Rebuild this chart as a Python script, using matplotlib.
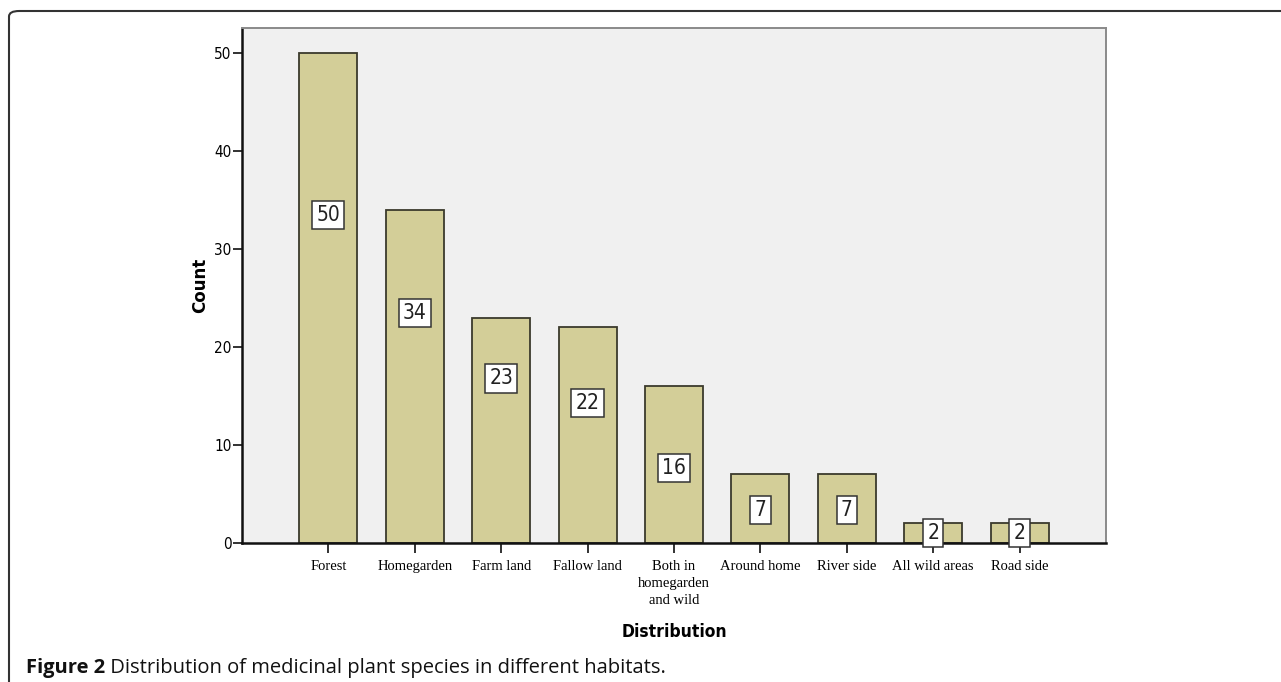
import matplotlib
matplotlib.use("Agg")
import matplotlib.pyplot as plt
from matplotlib.patches import FancyBboxPatch

# data
habitats = ["Forest", "Homegarden", "Farm land", "Fallow land",
            "Both in\nhomegarden\nand wild", "Around home", "River side",
            "All wild areas", "Road side"]
counts = [50, 34, 23, 22, 16, 7, 7, 2, 2]

# where each value box sits, as a share of the bar height (SPSS puts them oddly)
label_frac = [0.67, 0.69, 0.73, 0.65, 0.48, 0.48, 0.48, 0.5, 0.5]

serif = ["Liberation Serif", "DejaVu Serif"]

fig = plt.figure(figsize=(12.81, 6.82), dpi=100)
ax = fig.add_axes([0.1889, 0.2038, 0.6745, 0.7551])
ax.set_facecolor("#f0f0f0")

x = list(range(len(habitats)))
ax.bar(x, counts, width=0.67, color="#d3ce98", edgecolor="#3b3a2c", linewidth=1.3, zorder=2)

for i in range(len(counts)):
    ax.text(i, counts[i] * label_frac[i], str(counts[i]), ha="center", va="center",
            fontsize=15, family="DejaVu Sans", fontstretch="condensed",
            color="#222222", zorder=5, clip_on=False,
            bbox=dict(boxstyle="square,pad=0.2", fc="white", ec="#333333", lw=1.1))

ax.set_xlim(-1, len(habitats))
ax.set_ylim(0, 52.55)
ax.set_yticks([0, 10, 20, 30, 40, 50])
ax.set_xticks(x)
ax.set_xticklabels(habitats, fontsize=10.5, family=serif, linespacing=1.4)
for lab in ax.get_yticklabels():
    lab.set_family("DejaVu Sans")
    lab.set_stretch("condensed")
    lab.set_fontsize(11)

ax.tick_params(axis="x", length=7, width=1.3, pad=5, color="#222222")
ax.tick_params(axis="y", length=6.5, width=1.3, pad=1, color="#222222")

for side in ["left", "bottom"]:
    ax.spines[side].set_color("#111111")
    ax.spines[side].set_linewidth(1.8)
for side in ["top", "right"]:
    ax.spines[side].set_color("#8a8a8a")
    ax.spines[side].set_linewidth(1.4)

ax.set_ylabel("Count", fontsize=12, fontweight="bold", family="DejaVu Sans", labelpad=4)
ax.set_xlabel("Distribution", fontsize=12.5, fontweight="bold", family="DejaVu Sans",
              fontstretch="condensed", labelpad=12)

# rounded frame around the figure, only top/left show
frame = FancyBboxPatch((9 / 1281, -10 / 682), 1.1, (682 - 11 + 10) / 682,
                       boxstyle="round,pad=0,rounding_size=0.008",
                       transform=fig.transFigure, fill=False,
                       ec="#333333", lw=1.5, clip_on=False)
fig.add_artist(frame)

cap1 = fig.text(26 / 1281, 1 - 673 / 682, "Figure 2", fontsize=14.5, fontweight="bold",
                family="Open Sans", color="#111111", va="baseline")
ax.annotate(" Distribution of medicinal plant species in different habitats.",
            xy=(1, 0), xycoords=cap1, va="bottom", ha="left", fontsize=14.5,
            family="Open Sans", color="#111111", annotation_clip=False)

fig.savefig("out.png", dpi=100)
